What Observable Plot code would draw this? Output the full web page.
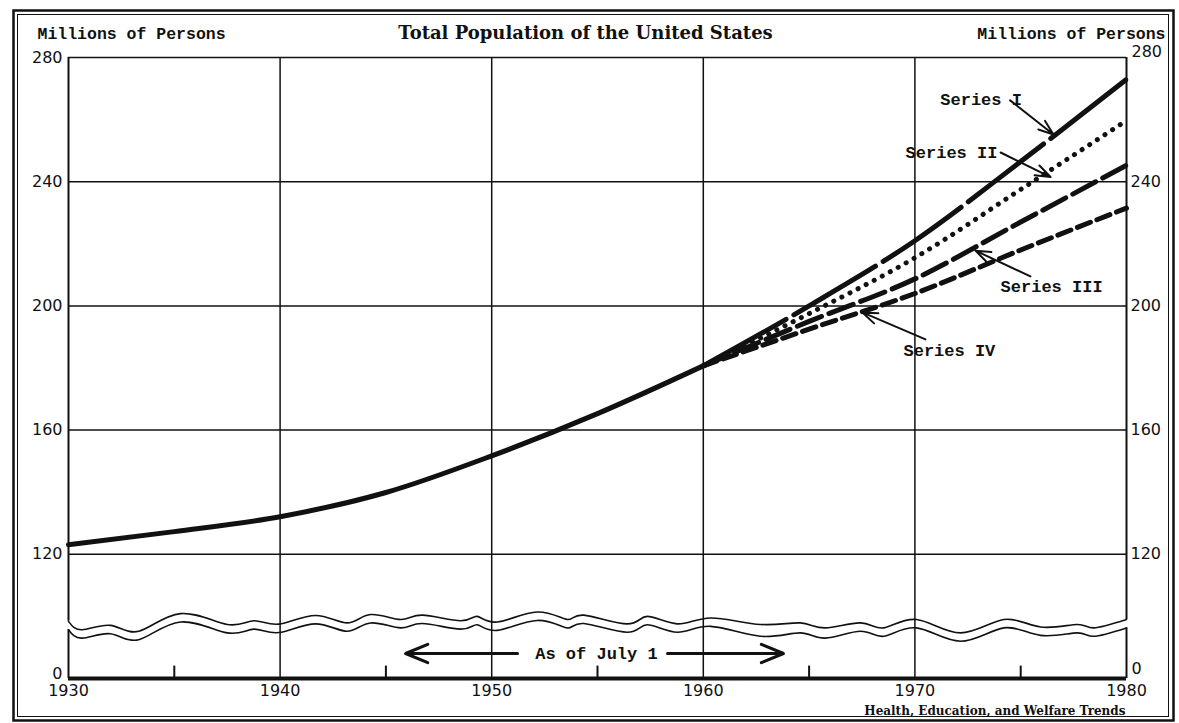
<!DOCTYPE html>
<html>
<head>
<meta charset="utf-8">
<script src="https://cdn.jsdelivr.net/npm/d3@7"></script>
<script src="https://cdn.jsdelivr.net/npm/@observablehq/plot@0.6"></script>
<style>
  html, body { margin: 0; padding: 0; background: #fff; }
  #chart { width: 1179px; height: 723px; }
</style>
</head>
<body>
<div id="chart"></div>
<script>
// ---- data ----
const histYears = [1930, 1935, 1940, 1945, 1950, 1955, 1960];
const histPop = [123.1, 127.3, 132.1, 139.9, 151.7, 165.3, 180.7];

const projYears = [1960, 1965, 1970, 1975, 1980];
const seriesI = [180.7, 200.0, 221.0, 246.5, 273.0];
const seriesII = [180.7, 197.5, 215.5, 237.5, 259.7];
const seriesIII = [180.7, 195.0, 208.7, 227.0, 245.3];
const seriesIV = [180.7, 192.5, 204.0, 218.0, 231.5];

const xTicks = [1930, 1940, 1950, 1960, 1970, 1980];
const xMinorTicks = [1935, 1945, 1955, 1965, 1975];
const xGrid = [1940, 1950, 1960, 1970];
const yTicks = [120, 160, 200, 240];
const yTop = 280;
const yTopLabel = "280";
const yBase = 80;
const yBaseLabel = "0";
const yGrid = [120, 160, 200, 240];

// axis-break wave (years, upper and lower values)
const waveYears = [1930.0, 1930.65, 1931.98, 1933.32, 1935.29, 1937.5, 1938.76, 1939.94, 1941.67, 1943.17, 1944.27, 1945.69, 1946.72, 1948.53, 1949.31, 1950.26, 1952.15, 1953.57, 1954.35, 1956.4, 1957.35, 1958.77, 1960.34, 1962.7, 1964.59, 1965.77, 1967.43, 1968.53, 1970.08, 1972.15, 1974.2, 1975.94, 1977.67, 1978.45, 1980.0];
const waveTop = [98.4, 95.7, 97.1, 95.2, 100.9, 97.4, 98.6, 97.5, 100.3, 97.9, 100.6, 99.0, 100.4, 98.6, 100.0, 98.2, 101.4, 99.0, 100.4, 97.6, 100.0, 97.6, 99.5, 97.4, 97.9, 96.3, 97.9, 96.3, 99.0, 94.7, 99.0, 96.6, 97.4, 96.3, 99.0];
const waveBottom = [95.7, 93.0, 94.4, 92.5, 98.2, 94.7, 95.9, 94.8, 97.6, 95.2, 97.9, 96.3, 97.7, 95.9, 97.3, 95.5, 98.7, 96.3, 97.7, 94.9, 97.3, 94.9, 96.8, 93.6, 94.7, 93.0, 95.2, 93.6, 96.3, 92.0, 96.3, 93.9, 94.7, 93.6, 96.3];

// annotation labels and arrows
const seriesLabels = ["Series I", "Series II", "Series III", "Series IV"];
const labelX = [1971.2, 1969.56, 1974.05, 1969.46];
const labelY = [266.5, 249.4, 206.2, 185.6];
const arrowX1 = [1974.5, 1974.05, 1975.46, 1970.5];
const arrowY1 = [266.2, 249.4, 209.5, 189.2];
const arrowX2 = [1976.55, 1976.41, 1972.86, 1967.52];
const arrowY2 = [255.2, 241.5, 217.8, 197.9];

const noteText = "As of July 1";
const noteX = 1954.95;
const noteY = 88.05;
const noteArrowsX1 = [1951.22, 1958.31];
const noteArrowsX2 = [1945.93, 1963.79];

const titleText = "Total Population of the United States";
const unitText = "Millions of Persons";
const captionText = "Health, Education, and Welfare Trends";

// ---- build tables ----
const hist = histYears.map((year, i) => ({year, value: histPop[i]}));
const proj = (vals) => projYears.map((year, i) => ({year, value: vals[i]}));
const waves = waveYears.map((year, i) => ({year, top: waveTop[i], bottom: waveBottom[i]}));
const labels = seriesLabels.map((t, i) => ({t, x: labelX[i], y: labelY[i]}));
const arrows = seriesLabels.map((t, i) => ({x1: arrowX1[i], y1: arrowY1[i], x2: arrowX2[i], y2: arrowY2[i]}));
const noteArrows = noteArrowsX1.map((x1, i) => ({x1, x2: noteArrowsX2[i], y: noteY}));
const x0 = xTicks[0], xN = xTicks[xTicks.length - 1];
const frameSides = [
  {x: x0, y1: yBase, y2: waveBottom[0]},
  {x: x0, y1: waveTop[0], y2: yTop},
  {x: xN, y1: yBase, y2: waveBottom[waveBottom.length - 1]},
  {x: xN, y1: waveTop[waveTop.length - 1], y2: yTop}
];
const minorTicks = xMinorTicks.map(x => ({x, y1: yBase, y2: yBase + 4}));

const ink = "#111";
const mono = "Liberation Mono";
const tickFont = {fontFamily: "DejaVu Sans", fontSize: 16, fill: ink};

const chart = Plot.plot({
  width: 1179,
  height: 723,
  marginLeft: 68,
  marginRight: 53,
  marginTop: 57,
  marginBottom: 45,
  x: {domain: [x0, xN]},
  y: {domain: [yBase, yTop]},
  style: {fontFamily: "DejaVu Sans", fontSize: "16px", color: ink, background: "#fff"},
  marks: [
    // outer double border
    Plot.frame({insetLeft: -55, insetTop: -47, insetRight: -47, insetBottom: -42, stroke: ink, strokeWidth: 2.5}),
    Plot.frame({insetLeft: -51, insetTop: -43, insetRight: -42, insetBottom: -38, stroke: ink, strokeWidth: 1}),
    // grid
    Plot.ruleX(xGrid, {y1: yBase, y2: yTop, stroke: ink, strokeWidth: 1.5}),
    Plot.ruleY(yGrid, {stroke: ink, strokeWidth: 1.5}),
    Plot.ruleY([yTop], {stroke: ink, strokeWidth: 1.6}),
    Plot.ruleX(frameSides, {x: "x", y1: "y1", y2: "y2", stroke: ink, strokeWidth: 2}),
    // axis break
    Plot.line(waves, {x: "year", y: "top", curve: "natural", stroke: ink, strokeWidth: 1.6}),
    Plot.line(waves, {x: "year", y: "bottom", curve: "natural", stroke: ink, strokeWidth: 1.6}),
    // baseline + minor ticks
    Plot.ruleY([yBase], {stroke: ink, strokeWidth: 4}),
    Plot.ruleX(minorTicks, {x: "x", y1: "y1", y2: "y2", stroke: ink, strokeWidth: 2}),
    // data
    Plot.line(hist, {x: "year", y: "value", curve: "monotone-x", stroke: ink, strokeWidth: 5}),
    Plot.line(proj(seriesI), {x: "year", y: "value", curve: "monotone-x", stroke: ink, strokeWidth: 5, strokeDasharray: "95,9"}),
    Plot.line(proj(seriesII), {x: "year", y: "value", curve: "monotone-x", stroke: ink, strokeWidth: 5, strokeDasharray: "0.1,9", strokeLinecap: "round"}),
    Plot.line(proj(seriesIII), {x: "year", y: "value", curve: "monotone-x", stroke: ink, strokeWidth: 5, strokeDasharray: "26,8"}),
    Plot.line(proj(seriesIV), {x: "year", y: "value", curve: "monotone-x", stroke: ink, strokeWidth: 5, strokeDasharray: "14,7"}),
    // annotations
    Plot.arrow(arrows, {x1: "x1", y1: "y1", x2: "x2", y2: "y2", stroke: ink, strokeWidth: 2, headLength: 12, headAngle: 40}),
    Plot.text(labels, {x: "x", y: "y", text: "t", textAnchor: "start", fontFamily: mono, fontWeight: "bold", fontSize: 17, fill: ink}),
    Plot.arrow(noteArrows, {x1: "x1", y1: "y", x2: "x2", y2: "y", stroke: ink, strokeWidth: 3, headLength: 12, headAngle: 45}),
    Plot.text([noteText], {x: noteX, y: noteY, fontFamily: mono, fontWeight: "bold", fontSize: 17, fill: ink}),
    // axes
    Plot.axisY({anchor: "left", ticks: yTicks, tickSize: 0, tickPadding: 6, label: null, ...tickFont}),
    Plot.axisY({anchor: "right", ticks: yTicks, tickSize: 0, tickPadding: 4, label: null, ...tickFont}),
    Plot.axisX({ticks: xTicks, tickFormat: d => String(d), tickSize: 0, tickPadding: 6, label: null, ...tickFont}),
    Plot.text([yTopLabel], {x: x0, y: yTop, dx: -6, textAnchor: "end", ...tickFont}),
    Plot.text([yTopLabel], {x: xN, y: yTop, dx: 5, dy: -6, textAnchor: "start", ...tickFont}),
    Plot.text([yBaseLabel], {x: x0, y: yBase, dx: -6, dy: -5, textAnchor: "end", ...tickFont}),
    Plot.text([yBaseLabel], {x: xN, y: yBase, dx: 5, dy: -10, textAnchor: "start", ...tickFont}),
    // titles
    Plot.text([unitText], {frameAnchor: "top-left", dx: -31, dy: -24, lineAnchor: "middle", textAnchor: "start", fontFamily: mono, fontWeight: "bold", fontSize: 16.5, fill: ink}),
    Plot.text([unitText], {frameAnchor: "top-right", dx: 39, dy: -24, lineAnchor: "middle", textAnchor: "end", fontFamily: mono, fontWeight: "bold", fontSize: 16.5, fill: ink}),
    Plot.text([titleText], {frameAnchor: "top", dx: -12, dy: -24, lineAnchor: "middle", fontFamily: "DejaVu Serif", fontWeight: "bold", fontSize: 18, fill: ink}),
    Plot.text([captionText], {frameAnchor: "bottom-right", dx: -1, dy: 33, lineAnchor: "middle", textAnchor: "end", fontFamily: "DejaVu Serif", fontWeight: "bold", fontSize: 12, fill: ink})
  ]
});
document.getElementById("chart").appendChild(chart);
</script>
</body>
</html>
